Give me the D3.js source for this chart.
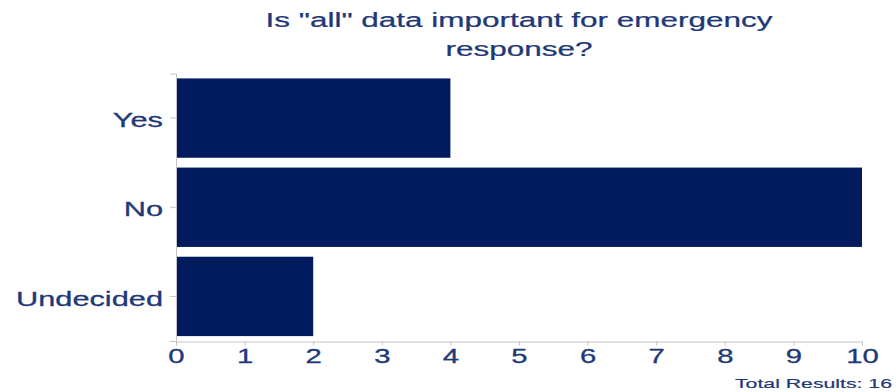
<!DOCTYPE html>
<html>
<head>
<meta charset="utf-8">
<script src="https://cdn.jsdelivr.net/npm/d3@7"></script>
<style>
  body { margin: 0; background: #fff; }
  svg { display: block; font-family: "Liberation Sans", Arial, Helvetica, sans-serif; }
</style>
</head>
<body>
<svg id="chart" width="896" height="392"></svg>
<script>
// data
const categories = ['Yes', 'No', 'Undecided'];
const counts = [4, 10, 2];
const xTicks = [0, 1, 2, 3, 4, 5, 6, 7, 8, 9, 10];
const titleLines = ['Is "all" data important for emergency', 'response?'];
const totalLabel = 'Total Results: 16';

const textColor = '#1f3877';
const barColor = '#011b5e';
const axisColor = '#c4c4c4';
const stretch = 1.5; // text in the picture is drawn wide

let svg = d3.select('#chart');

let x = d3.scaleLinear()
    .domain([0, 10])
    .range([176, 862]);

let y = d3.scaleBand()
    .domain(categories)
    .range([73.5, 341])
    .paddingInner(0.11)
    .paddingOuter(0.055);

// title
svg.append('g')
  .selectAll('text')
  .data(titleLines)
  .enter().append('text')
  .attr('transform', (d, i) => 'translate(519,' + (27 + i * 29) + ') scale(' + stretch + ',1)')
  .attr('text-anchor', 'middle')
  .attr('font-size', 21)
  .attr('fill', textColor)
  .attr('stroke', textColor)
  .attr('stroke-width', 0.25)
  .text(d => d);

// bars
svg.append('g')
  .selectAll('rect')
  .data(categories)
  .enter().append('rect')
  .attr('x', x(0))
  .attr('y', d => y(d))
  .attr('width', (d, i) => x(counts[i]) - x(0))
  .attr('height', y.bandwidth())
  .attr('fill', barColor);

// bottom axis
let xAxis = svg.append('g')
  .attr('transform', 'translate(0,341.5)')
  .call(d3.axisBottom(x).tickValues(xTicks).tickFormat(d3.format('d')).tickSizeOuter(0).tickSize(4).tickPadding(3.5));

xAxis.select('.domain').attr('stroke', axisColor);
xAxis.selectAll('.tick line').attr('stroke', axisColor);
xAxis.selectAll('.tick text')
  .attr('transform', 'scale(' + stretch + ',1)')
  .attr('font-size', 19.5)
  .attr('font-family', null)
  .attr('fill', textColor)
  .attr('stroke', textColor)
  .attr('stroke-width', 0.3);

// left axis
let yAxis = svg.append('g')
  .attr('transform', 'translate(176,0)')
  .call(d3.axisLeft(y).tickSizeOuter(0).tickSize(6));

yAxis.select('.domain').attr('stroke', axisColor);
yAxis.selectAll('.tick line').attr('stroke', axisColor);
yAxis.selectAll('.tick text')
  .attr('transform', 'scale(' + stretch + ',1)')
  .attr('x', -13 / stretch)
  .attr('dy', '0.45em')
  .attr('font-size', 20.5)
  .attr('font-family', null)
  .attr('fill', textColor)
  .attr('stroke', textColor)
  .attr('stroke-width', 0.3);

// footer
svg.append('text')
  .attr('transform', 'translate(892,387.5) scale(1.7,1)')
  .attr('text-anchor', 'end')
  .attr('font-size', 12.5)
  .attr('fill', textColor)
  .attr('stroke', textColor)
  .attr('stroke-width', 0.2)
  .text(totalLabel);
</script>
</body>
</html>
